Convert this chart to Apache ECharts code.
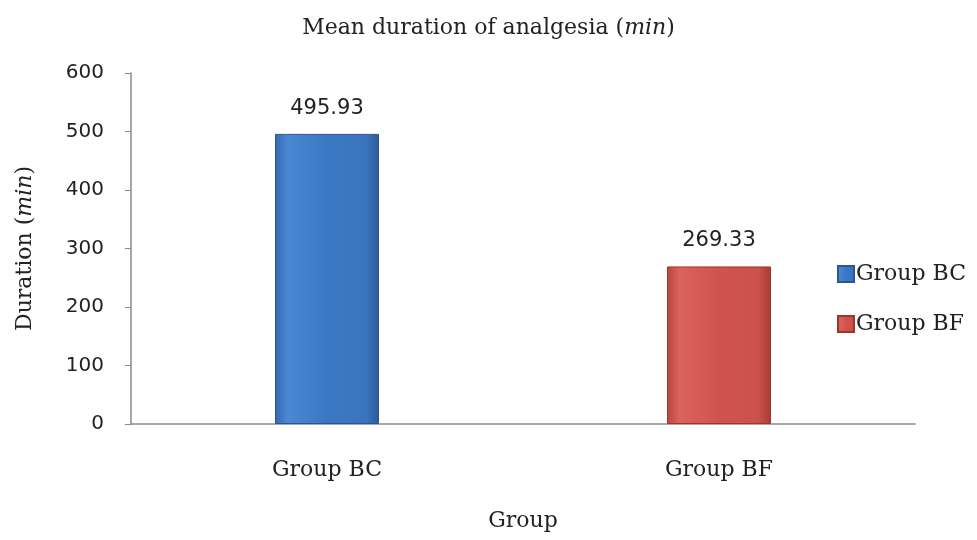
<!DOCTYPE html>
<html>
<head>
<meta charset="utf-8">
<script src="https://cdn.jsdelivr.net/npm/echarts@6/dist/echarts.min.js"></script>
<style>
  html, body { margin: 0; padding: 0; background: #fff; }
  #main { width: 977px; height: 540px; }
</style>
</head>
<body>
<div id="main"></div>
<script>
// data
const groups = ['Group BC', 'Group BF']
const durations = [495.93, 269.33]
const yTicks = [0, 100, 200, 300, 400, 500, 600]

const serif = 'DejaVu Serif'
const sans = 'DejaVu Sans'

// bevel-ish look of the original bars
const fills = [
  { face: new echarts.graphic.LinearGradient(0, 0, 1, 0, [
      { offset: 0, color: '#3468ad' },
      { offset: 0.12, color: '#4a88d4' },
      { offset: 0.5, color: '#3b78c4' },
      { offset: 0.88, color: '#3a74bd' },
      { offset: 1, color: '#2b5a96' }
    ]), edge: '#2a5590' },
  { face: new echarts.graphic.LinearGradient(0, 0, 1, 0, [
      { offset: 0, color: '#b8463f' },
      { offset: 0.12, color: '#dc625c' },
      { offset: 0.5, color: '#d0534f' },
      { offset: 0.88, color: '#cc504b' },
      { offset: 1, color: '#a63c38' }
    ]), edge: '#98362f' }
]

const chart = echarts.init(document.getElementById('main'))

const series = groups.map((g, i) => ({
  name: g,
  type: 'bar',
  barWidth: 104,
  barGap: '-100%',
  data: durations.map((v, j) => (j === i ? v : null)),
  itemStyle: { color: fills[i].face, borderColor: fills[i].edge, borderWidth: 1 },
  label: {
    show: true,
    position: 'top',
    distance: 15,
    color: '#222',
    fontFamily: sans,
    fontSize: 21,
    formatter: p => p.value.toFixed(2)
  }
}))

chart.setOption({
  animation: false,
  backgroundColor: '#fff',
  title: {
    text: 'Mean duration of analgesia ({i|min})',
    left: 'center',
    top: 12,
    textStyle: {
      fontFamily: serif,
      fontSize: 22,
      fontWeight: 'normal',
      color: '#222',
      rich: { i: { fontFamily: serif, fontSize: 22, fontStyle: 'italic', color: '#222' } }
    }
  },
  legend: {
    orient: 'vertical',
    left: 832,
    top: 258,
    itemWidth: 16,
    itemHeight: 16,
    itemGap: 28,
    icon: 'rect',
    textStyle: { fontFamily: serif, fontSize: 22, color: '#222', padding: [0, 0, 0, -3] },
    data: groups
  },
  grid: { left: 131, right: 62, top: 73, bottom: 116 },
  xAxis: {
    type: 'category',
    data: groups,
    name: 'Group',
    nameLocation: 'middle',
    nameGap: 86,
    nameTextStyle: { fontFamily: serif, fontSize: 22, color: '#222' },
    axisLine: { lineStyle: { color: '#8a8a8a', width: 1.5 } },
    axisTick: { show: false },
    axisLabel: { margin: 35, fontFamily: serif, fontSize: 22, color: '#222' }
  },
  yAxis: {
    type: 'value',
    min: yTicks[0],
    max: yTicks[yTicks.length - 1],
    interval: 100,
    name: 'Duration ({i|min})',
    nameLocation: 'middle',
    nameGap: 95,
    nameTextStyle: {
      fontFamily: serif, fontSize: 22, color: '#222',
      rich: { i: { fontFamily: serif, fontSize: 22, fontStyle: 'italic', color: '#222' } }
    },
    axisLine: { show: true, lineStyle: { color: '#8a8a8a', width: 1.5 } },
    axisTick: { show: true, length: 6, lineStyle: { color: '#8a8a8a' } },
    axisLabel: { margin: 27, fontFamily: sans, fontSize: 20, color: '#222' },
    splitLine: { show: false }
  },
  series: series
})
</script>
</body>
</html>
